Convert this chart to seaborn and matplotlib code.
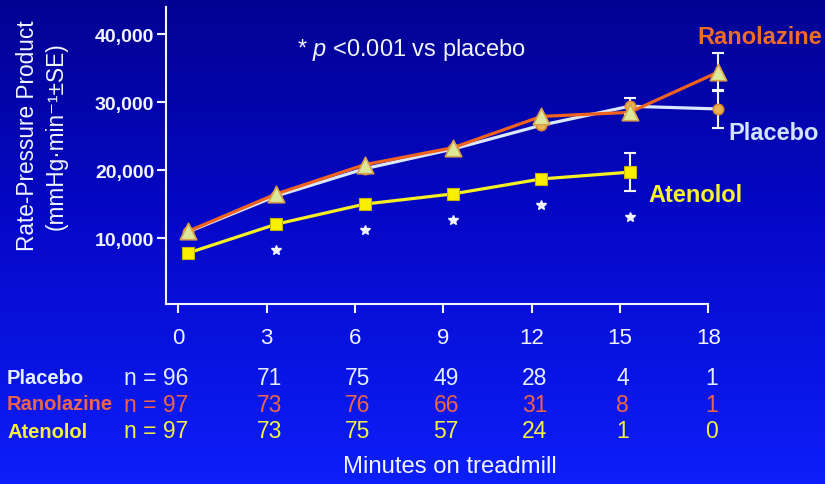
import numpy as np
import pandas as pd
import seaborn as sns
import matplotlib
matplotlib.use("Agg")
import matplotlib.pyplot as plt
from matplotlib import transforms
from matplotlib.colors import LinearSegmentedColormap

# ---------------- data ----------------
minutes = [0, 3, 6, 9, 12, 15, 18]
placebo = [10900, 16200, 20200, 23100, 26600, 29400, 29000]
ranolazine = [11000, 16500, 20800, 23300, 27900, 28500, 34400]
atenolol = [7800, 12050, 15000, 16500, 18700, 19700]
placebo_se = [0, 0, 0, 0, 0, 1200, 2800]
ranolazine_se = [0, 0, 0, 0, 0, 0, 2800]
atenolol_se = [0, 0, 0, 0, 0, 2800]
signif_minutes = [3, 6, 9, 12, 15]
n_placebo = [96, 71, 75, 49, 28, 4, 1]
n_ranolazine = [97, 73, 76, 66, 31, 8, 1]
n_atenolol = [97, 73, 75, 57, 24, 1, 0]
yticks = [10000, 20000, 30000, 40000]
ytick_labels = ["10,000", "20,000", "30,000", "40,000"]

# ---------------- style ----------------
sns.set_theme(style="white")
plt.rcParams["font.family"] = ["Liberation Sans", "DejaVu Sans"]
plt.rcParams["mathtext.fontset"] = "custom"
plt.rcParams["mathtext.rm"] = "Liberation Sans"
plt.rcParams["mathtext.it"] = "Liberation Sans:italic"

C_PLA = "#dbe8fb"
C_RAN = "#f0621e"
C_ATE = "#f6f022"
C_WHITE = "#f2f4ff"

W, H = 825, 485
fig = plt.figure(figsize=(W / 100, H / 100), dpi=100)

# background gradient
bg = fig.add_axes([0, 0, 1, 1], zorder=-10)
cmap = LinearSegmentedColormap.from_list(
    "bg", [(0.0, (0.01, 0.01, 0.57)), (0.45, (0.02, 0.03, 0.78)), (1.0, (0.05, 0.12, 0.98))])
grad = np.linspace(0, 1, 256).reshape(-1, 1)
bg.imshow(grad, aspect="auto", cmap=cmap, extent=[0, 1, 1, 0])
bg.set_axis_off()

# main axes (pixel layout)
px_left, px_right, px_top, px_bottom = 166, 825, 8, 305
ax = fig.add_axes([px_left / W, 1 - px_bottom / H, (px_right - px_left) / W, (px_bottom - px_top) / H])
ax.set_facecolor("none")
ax.patch.set_alpha(0)

x_per_px = 1 / 29.44
ax.set_xlim(-22 * x_per_px, (px_right - 188) * x_per_px)
ax.set_ylim(300, 44000)
tick_shift = -0.33

df = pd.DataFrame({
    "minute": minutes * 2 + minutes[:len(atenolol)],
    "rpp": placebo + ranolazine + atenolol,
    "drug": ["Placebo"] * 7 + ["Ranolazine"] * 7 + ["Atenolol"] * len(atenolol),
})

sns.lineplot(data=df, x="minute", y="rpp", hue="drug",
             palette={"Placebo": C_PLA, "Ranolazine": C_RAN, "Atenolol": C_ATE},
             hue_order=["Placebo", "Atenolol", "Ranolazine"],
             linewidth=2.3, legend=False, ax=ax, zorder=3, errorbar=None)


def ebar(xs, ys, ses):
    xs2 = [x for x, s in zip(xs, ses) if s > 0]
    ys2 = [y for y, s in zip(ys, ses) if s > 0]
    ss2 = [s for s in ses if s > 0]
    ax.errorbar(xs2, ys2, yerr=ss2, fmt="none", ecolor=C_WHITE, elinewidth=1.5,
                capsize=4.5, capthick=1.5, zorder=4)


ebar(minutes, placebo, placebo_se)
ebar(minutes, ranolazine, ranolazine_se)
ebar(minutes[:len(atenolol)], atenolol, atenolol_se)

sns.scatterplot(x=minutes, y=placebo, marker="o", s=55, color="#e9b257",
                edgecolor="#d98a2e", linewidth=1.2, ax=ax, zorder=5, legend=False)
sns.scatterplot(x=minutes, y=ranolazine, marker="^", s=140, color="#dde79a",
                edgecolor="#d9a24a", linewidth=1.2, ax=ax, zorder=6, legend=False)
sns.scatterplot(x=minutes[:len(atenolol)], y=atenolol, marker="s", s=65, color="#f8f000",
                edgecolor="#c8b400", linewidth=0.8, ax=ax, zorder=6, legend=False)

# significance stars below atenolol
star_tr = transforms.offset_copy(ax.transData, fig=fig, y=-26, units="dots")
ate_map = dict(zip(minutes, zip(atenolol, atenolol_se)))
sx = signif_minutes
sy = [ate_map[m][0] - ate_map[m][1] for m in signif_minutes]
ax.plot(sx, sy, ls="none", marker="*", ms=7, color=C_WHITE, mec=C_WHITE, transform=star_tr,
        zorder=6, clip_on=False)

# axes styling
for s in ["top", "right"]:
    ax.spines[s].set_visible(False)
for s in ["left", "bottom"]:
    ax.spines[s].set_color(C_WHITE)
    ax.spines[s].set_linewidth(1.5)
ax.spines["bottom"].set_bounds(ax.get_xlim()[0], 18 + tick_shift)
ax.set_xticks([m + tick_shift for m in minutes])
ax.set_xticklabels([str(m) for m in minutes])
ax.set_yticks(yticks)
ax.set_yticklabels(ytick_labels)
ax.tick_params(axis="both", colors=C_WHITE, direction="out", length=6.5, width=1.5, bottom=True, left=True)
ax.tick_params(axis="x", labelsize=16, pad=10)
ax.tick_params(axis="y", labelsize=14, pad=2)
for lab in ax.get_yticklabels():
    lab.set_fontweight("bold")
ax.set_xlabel("")
ax.set_ylabel("")
ax.grid(False)

# y label
fig.text(42 / W, 1 - 136 / H, "Rate-Pressure Product\n(mmHg\u00b7min\u207b\u00b9\u00b1SE)",
         rotation=90, ha="center", va="center", multialignment="center",
         fontsize=16.3, color=C_WHITE, linespacing=1.3)

# annotation
fig.text(411 / W, 1 - 50 / H, r"* $p$ <0.001 vs placebo", ha="center", va="center",
         fontsize=17, color=C_WHITE)

# series labels
fig.text(697 / W, 1 - 38 / H, "Ranolazine", ha="left", va="center", fontsize=17,
         fontweight="bold", color="#f06a28")
fig.text(728 / W, 1 - 133 / H, "Placebo", ha="left", va="center", fontsize=17,
         fontweight="bold", color="#d2e3fb")
fig.text(648 / W, 1 - 196 / H, "Atenolol", ha="left", va="center", fontsize=17,
         fontweight="bold", color="#f6f030")

# n table
rows = [("Placebo", n_placebo, "#e4eeff", 379),
        ("Ranolazine", n_ranolazine, "#ee6448", 405),
        ("Atenolol", n_atenolol, "#f4f040", 432)]
xfig = transforms.blended_transform_factory(ax.transData, fig.transFigure)
for name, ns, col, ypx in rows:
    yf = 1 - ypx / H
    fig.text(7 / W, yf, name, ha="left", va="center", fontsize=14.5, fontweight="bold", color=col)
    fig.text(188 / W, yf, f"n = {ns[0]}", ha="right", va="center", fontsize=16.5, color=col)
    for m, n in zip(minutes[1:], ns[1:]):
        ax.text(m + tick_shift + 0.1, yf, str(n), transform=xfig, ha="center", va="center",
                fontsize=16.5, color=col, clip_on=False)

fig.text(450 / W, 1 - 467 / H, "Minutes on treadmill", ha="center", va="center",
         fontsize=17.2, color=C_WHITE)

fig.savefig("out.png", dpi=100)
